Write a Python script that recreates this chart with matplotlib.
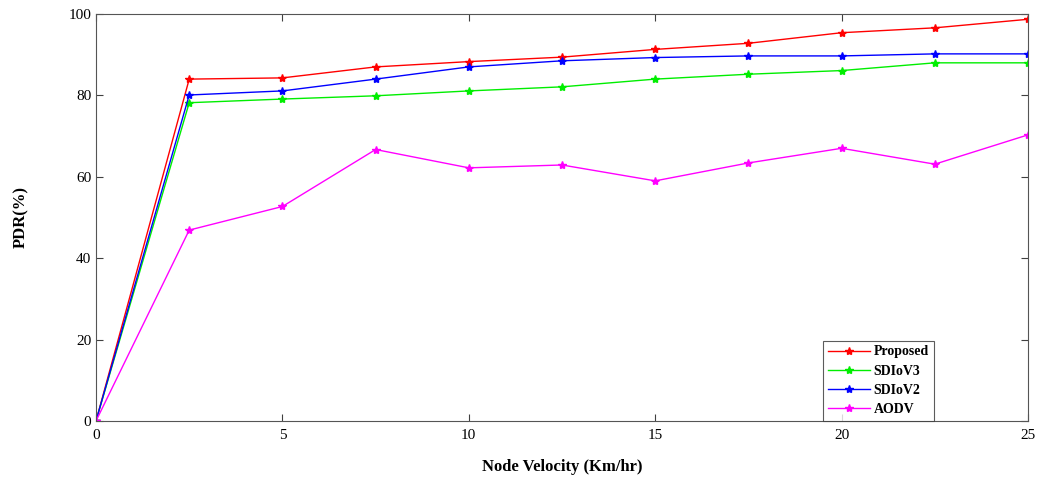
import matplotlib.pyplot as plt

# Node velocity (Km/hr)
velocity = [0, 2.5, 5, 7.5, 10, 12.5, 15, 17.5, 20, 22.5, 25]

# PDR (%) per protocol
pdr_proposed = [0, 84.0, 84.3, 87.0, 88.3, 89.4, 91.3, 92.8, 95.4, 96.6, 98.7]
pdr_sdiov3 = [0, 78.2, 79.1, 79.9, 81.1, 82.1, 84.0, 85.2, 86.1, 88.0, 88.0]
pdr_sdiov2 = [0, 80.1, 81.1, 84.0, 87.0, 88.5, 89.3, 89.7, 89.7, 90.2, 90.2]
pdr_aodv = [0, 46.9, 52.7, 66.7, 62.2, 62.9, 59.0, 63.4, 67.0, 63.1, 70.3]

plt.rcParams['font.family'] = ['Liberation Serif', 'DejaVu Serif']

fig = plt.figure(figsize=(10.39, 4.91), dpi=100)
ax = fig.add_axes([0.0924, 0.1426, 0.8970, 0.8289])

# same order as the legend
ax.plot(velocity, pdr_proposed, color='red', marker='*', markersize=6, linewidth=1, label='Proposed')
ax.plot(velocity, pdr_sdiov3, color='#00ee00', marker='*', markersize=6, linewidth=1, label='SDIoV3')
ax.plot(velocity, pdr_sdiov2, color='blue', marker='*', markersize=6, linewidth=1, label='SDIoV2')
ax.plot(velocity, pdr_aodv, color='magenta', marker='*', markersize=6, linewidth=1, label='AODV')

ax.set_xlim(0, 25)
ax.set_ylim(0, 100)
ax.set_xticks([0, 5, 10, 15, 20, 25])
ax.set_yticks([0, 20, 40, 60, 80, 100])
ax.tick_params(direction='in', top=True, right=True, labelsize=11, length=5, colors='#404040')
ax.tick_params(axis='x', pad=6)
for label in ax.get_xticklabels() + ax.get_yticklabels():
    label.set_color('black')
for sp in ax.spines.values():
    sp.set_color('#555555')

ax.set_xlabel('Node Velocity (Km/hr)', fontsize=12, fontweight='bold', labelpad=12)
ax.set_ylabel('PDR(%)', fontsize=12, fontweight='bold', labelpad=28)

leg = ax.legend(loc='lower right', bbox_to_anchor=(0.899, 0.0), borderaxespad=0, fancybox=False,
                prop={'weight': 'bold', 'size': 10}, handlelength=3.0, borderpad=0.35,
                labelspacing=0.45, handletextpad=0.3)
leg.get_frame().set_edgecolor('#333333')
leg.get_frame().set_linewidth(0.8)

fig.savefig('out.png', dpi=100)
